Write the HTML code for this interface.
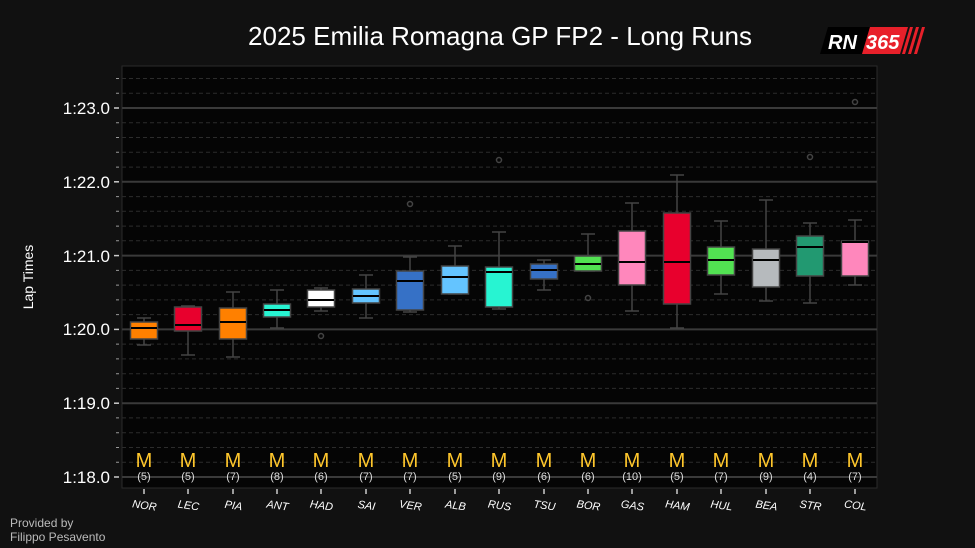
<!DOCTYPE html>
<html><head><meta charset="utf-8"><style>
html,body{margin:0;background:#111;width:975px;height:548px;overflow:hidden;font-family:"Liberation Sans",sans-serif}
svg{display:block}
</style></head><body>
<svg width="975" height="548" xmlns="http://www.w3.org/2000/svg" font-family="Liberation Sans, sans-serif">
<rect width="975" height="548" fill="#111"/>
<text x="500" y="45" fill="#fff" font-size="26" text-anchor="middle">2025 Emilia Romagna GP FP2 - Long Runs</text>
<g transform="translate(820,27)">
<polygon points="8,0 50,0 42,27 0,27" fill="#000"/>
<polygon points="50,0 88,0 80,27 42,27" fill="#e8202a"/>
<polygon points="90,0 93,0 85,27 82,27" fill="#e8202a"/>
<polygon points="96,0 99,0 91,27 88,27" fill="#e8202a"/>
<polygon points="102,0 105,0 97,27 94,27" fill="#e8202a"/>
<text x="8" y="22" fill="#fff" font-size="20" font-weight="bold" font-style="italic">RN</text>
<text x="46" y="22" fill="#fff" font-size="20" font-weight="bold" font-style="italic">365</text>
</g>
<rect x="122" y="66" width="755" height="422" fill="#050505" stroke="#2a2a2a"/>
<g stroke="#2c2c2c" stroke-dasharray="4,3" stroke-width="1">
<line x1="122" x2="877" y1="462.2" y2="462.2"/><line x1="122" x2="877" y1="447.5" y2="447.5"/><line x1="122" x2="877" y1="432.7" y2="432.7"/><line x1="122" x2="877" y1="417.9" y2="417.9"/>
<line x1="122" x2="877" y1="388.4" y2="388.4"/><line x1="122" x2="877" y1="373.7" y2="373.7"/><line x1="122" x2="877" y1="358.9" y2="358.9"/><line x1="122" x2="877" y1="344.1" y2="344.1"/>
<line x1="122" x2="877" y1="314.6" y2="314.6"/><line x1="122" x2="877" y1="299.9" y2="299.9"/><line x1="122" x2="877" y1="285.1" y2="285.1"/><line x1="122" x2="877" y1="270.4" y2="270.4"/>
<line x1="122" x2="877" y1="240.8" y2="240.8"/><line x1="122" x2="877" y1="226.1" y2="226.1"/><line x1="122" x2="877" y1="211.3" y2="211.3"/><line x1="122" x2="877" y1="196.6" y2="196.6"/>
<line x1="122" x2="877" y1="167.1" y2="167.1"/><line x1="122" x2="877" y1="152.3" y2="152.3"/><line x1="122" x2="877" y1="137.5" y2="137.5"/><line x1="122" x2="877" y1="122.8" y2="122.8"/>
<line x1="122" x2="877" y1="93.2" y2="93.2"/><line x1="122" x2="877" y1="78.5" y2="78.5"/>
</g>
<g stroke="#3a3a3a" stroke-width="2">
<line x1="122" x2="877" y1="477" y2="477"/><line x1="122" x2="877" y1="403.2" y2="403.2"/><line x1="122" x2="877" y1="329.4" y2="329.4"/><line x1="122" x2="877" y1="255.6" y2="255.6"/><line x1="122" x2="877" y1="181.8" y2="181.8"/><line x1="122" x2="877" y1="108" y2="108"/>
</g>
<g stroke="#ccc" stroke-width="1.5">
<line x1="114" x2="119" y1="477" y2="477"/><line x1="114" x2="119" y1="403.2" y2="403.2"/><line x1="114" x2="119" y1="329.4" y2="329.4"/><line x1="114" x2="119" y1="255.6" y2="255.6"/><line x1="114" x2="119" y1="181.8" y2="181.8"/><line x1="114" x2="119" y1="108" y2="108"/>
</g>
<g stroke="#999" stroke-width="1">
<path d="M116,462.2H119M116,447.5H119M116,432.7H119M116,417.9H119M116,388.4H119M116,373.7H119M116,358.9H119M116,344.1H119M116,314.6H119M116,299.9H119M116,285.1H119M116,270.4H119M116,240.8H119M116,226.1H119M116,211.3H119M116,196.6H119M116,167.1H119M116,152.3H119M116,137.5H119M116,122.8H119M116,93.2H119M116,78.5H119"/>
</g>
<g fill="#fff" font-size="17" text-anchor="end">
<text x="110" y="483">1:18.0</text><text x="110" y="409">1:19.0</text><text x="110" y="335">1:20.0</text><text x="110" y="262">1:21.0</text><text x="110" y="188">1:22.0</text><text x="110" y="114">1:23.0</text>
</g>
<text transform="translate(33,277) rotate(-90)" fill="#fff" font-size="14" text-anchor="middle">Lap Times</text>
<g stroke="#444" stroke-width="1.5" fill="none">
<path d="M144,318V345M137,318H151M137,345H151"/>
<path d="M188,306V355M181,306H195M181,355H195"/>
<path d="M233,292V357M226,292H240M226,357H240"/>
<path d="M277,290V328M270,290H284M270,328H284"/>
<path d="M321,288V311M314,288H328M314,311H328"/>
<path d="M366,275V318M359,275H373M359,318H373"/>
<path d="M410,257V312M403,257H417M403,312H417"/>
<path d="M455,246V294M448,246H462M448,294H462"/>
<path d="M499,232V309M492,232H506M492,309H506"/>
<path d="M544,260V290M537,260H551M537,290H551"/>
<path d="M588,234V271M581,234H595M581,271H595"/>
<path d="M632,203V311M625,203H639M625,311H639"/>
<path d="M677,175V328M670,175H684M670,328H684"/>
<path d="M721,221V294M714,221H728M714,294H728"/>
<path d="M766,200V301M759,200H773M759,301H773"/>
<path d="M810,223V303M803,223H817M803,303H817"/>
<path d="M855,220V285M848,220H862M848,285H862"/>
<circle cx="321" cy="336" r="2.5"/><circle cx="410" cy="204" r="2.5"/><circle cx="499" cy="160" r="2.5"/><circle cx="588" cy="298" r="2.5"/><circle cx="810" cy="157" r="2.5"/><circle cx="855" cy="102" r="2.5"/>
</g>
<g stroke="#444" stroke-width="1.5">
<rect x="130.5" y="322" width="27" height="17" fill="#FF8000"/>
<rect x="174.5" y="307" width="27" height="24" fill="#E8002D"/>
<rect x="219.5" y="308" width="27" height="31" fill="#FF8000"/>
<rect x="263.5" y="304" width="27" height="13" fill="#27F4D2"/>
<rect x="307.5" y="290" width="27" height="17" fill="#FFFFFF"/>
<rect x="352.5" y="289" width="27" height="14" fill="#64C4FF"/>
<rect x="396.5" y="271" width="27" height="39" fill="#3671C6"/>
<rect x="441.5" y="266" width="27" height="28" fill="#64C4FF"/>
<rect x="485.5" y="267" width="27" height="40" fill="#27F4D2"/>
<rect x="530.5" y="264" width="27" height="15" fill="#3671C6"/>
<rect x="574.5" y="256" width="27" height="15" fill="#52E252"/>
<rect x="618.5" y="231" width="27" height="54" fill="#FF87BC"/>
<rect x="663.5" y="213" width="27" height="91" fill="#E8002D"/>
<rect x="707.5" y="247" width="27" height="28" fill="#52E252"/>
<rect x="752.5" y="249" width="27" height="38" fill="#B6BABD"/>
<rect x="796.5" y="236" width="27" height="40" fill="#229971"/>
<rect x="841.5" y="241" width="27" height="35" fill="#FF87BC"/>
</g>
<g stroke="#000" stroke-width="2">
<path d="M131,328H157M175,325H201M220,322H246M264,310H290M308,300H334M353,296H379M397,281H423M442,277H468M486,272H512M531,270H557M575,264H601M619,262H645M664,262H690M708,260H734M753,260H779M797,247H823M842,242H868"/>
</g>
<g fill="#FFC72C" font-size="20" text-anchor="middle">
<text x="144" y="467">M</text><text x="188" y="467">M</text><text x="233" y="467">M</text><text x="277" y="467">M</text><text x="321" y="467">M</text><text x="366" y="467">M</text><text x="410" y="467">M</text><text x="455" y="467">M</text><text x="499" y="467">M</text><text x="544" y="467">M</text><text x="588" y="467">M</text><text x="632" y="467">M</text><text x="677" y="467">M</text><text x="721" y="467">M</text><text x="766" y="467">M</text><text x="810" y="467">M</text><text x="855" y="467">M</text>
</g>
<g fill="#ddd" font-size="11" text-anchor="middle">
<text x="144" y="480">(5)</text><text x="188" y="480">(5)</text><text x="233" y="480">(7)</text><text x="277" y="480">(8)</text><text x="321" y="480">(6)</text><text x="366" y="480">(7)</text><text x="410" y="480">(7)</text><text x="455" y="480">(5)</text><text x="499" y="480">(9)</text><text x="544" y="480">(6)</text><text x="588" y="480">(6)</text><text x="632" y="480">(10)</text><text x="677" y="480">(5)</text><text x="721" y="480">(7)</text><text x="766" y="480">(9)</text><text x="810" y="480">(4)</text><text x="855" y="480">(7)</text>
</g>
<g stroke="#ccc" stroke-width="1.5">
<path d="M144,489V494M188,489V494M233,489V494M277,489V494M321,489V494M366,489V494M410,489V494M455,489V494M499,489V494M544,489V494M588,489V494M632,489V494M677,489V494M721,489V494M766,489V494M810,489V494M855,489V494"/>
</g>
<g fill="#fff" font-size="11" font-style="italic" text-anchor="middle">
<text transform="translate(144,509) rotate(8)">NOR</text><text transform="translate(188,509) rotate(8)">LEC</text><text transform="translate(233,509) rotate(8)">PIA</text><text transform="translate(277,509) rotate(8)">ANT</text><text transform="translate(321,509) rotate(8)">HAD</text><text transform="translate(366,509) rotate(8)">SAI</text><text transform="translate(410,509) rotate(8)">VER</text><text transform="translate(455,509) rotate(8)">ALB</text><text transform="translate(499,509) rotate(8)">RUS</text><text transform="translate(544,509) rotate(8)">TSU</text><text transform="translate(588,509) rotate(8)">BOR</text><text transform="translate(632,509) rotate(8)">GAS</text><text transform="translate(677,509) rotate(8)">HAM</text><text transform="translate(721,509) rotate(8)">HUL</text><text transform="translate(766,509) rotate(8)">BEA</text><text transform="translate(810,509) rotate(8)">STR</text><text transform="translate(855,509) rotate(8)">COL</text>
</g>
<text x="10" y="527" fill="#bbb" font-size="12">Provided by</text>
<text x="10" y="541" fill="#bbb" font-size="12">Filippo Pesavento</text>
</svg>
</body></html>
